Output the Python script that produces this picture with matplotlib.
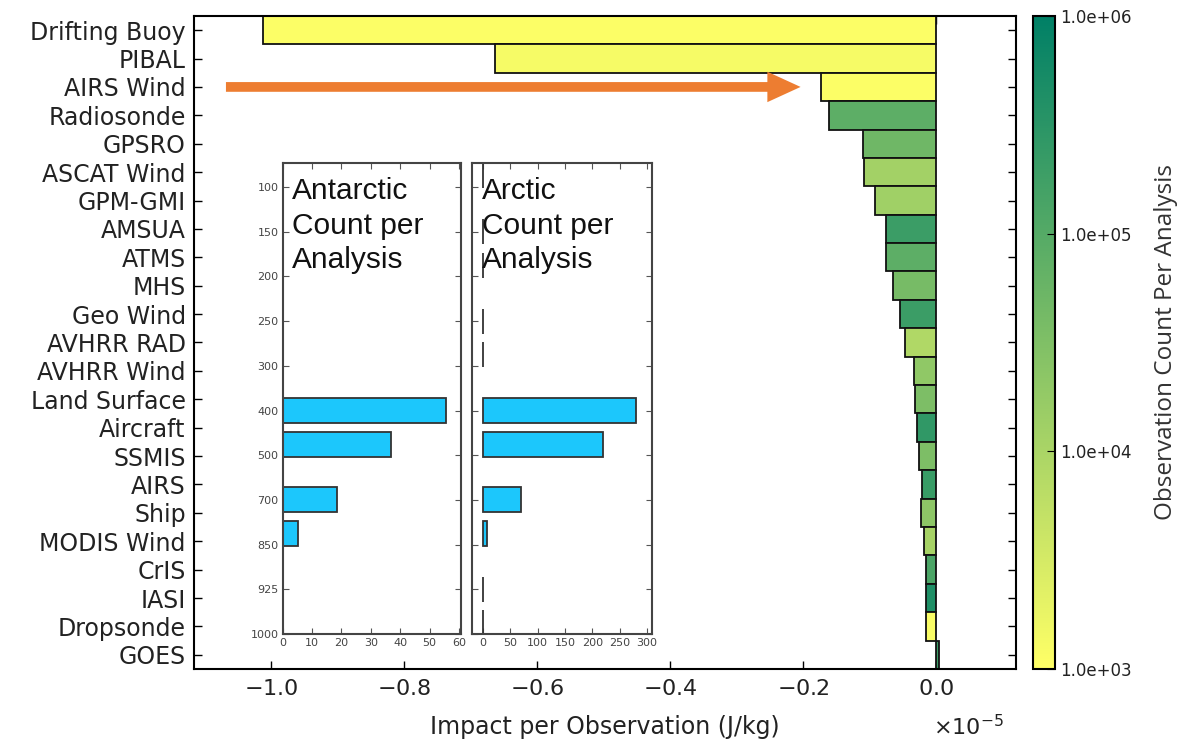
import numpy as np
import matplotlib
matplotlib.use("Agg")
import matplotlib.pyplot as plt
from matplotlib.colors import LogNorm
from matplotlib.ticker import ScalarFormatter, FormatStrFormatter

# impact per observation (x1e-5 J/kg) and obs count per analysis
obs_types = ["Drifting Buoy", "PIBAL", "AIRS Wind", "Radiosonde", "GPSRO",
             "ASCAT Wind", "GPM-GMI", "AMSUA", "ATMS", "MHS", "Geo Wind",
             "AVHRR RAD", "AVHRR Wind", "Land Surface", "Aircraft", "SSMIS",
             "AIRS", "Ship", "MODIS Wind", "CrIS", "IASI", "Dropsonde", "GOES"]
impact = [-1.012, -0.663, -0.174, -0.161, -0.110, -0.108, -0.092, -0.076,
          -0.075, -0.065, -0.055, -0.047, -0.0335, -0.0316, -0.029, -0.026,
          -0.0215, -0.0225, -0.018, -0.016, -0.0155, -0.0155, 0.0045]
counts = [1.1e3, 1.3e3, 1.1e3, 8e4, 5e4, 1.2e4, 1.3e4, 2e5, 8e4, 4e4, 2e5,
          8.5e3, 2e4, 3.4e4, 2.7e5, 3.4e4, 2.2e5, 2.2e4, 1.1e4, 1.3e5, 4.4e5,
          1.2e3, 2e5]

# polar MODIS wind counts by pressure level
lev_labels = ["100", "150", "200", "250", "300", "400", "500", "700", "850", "925", "1000"]
lev_pos = [-0.25, 1, 1.75, 3, 3.75, 5, 5.75, 7, 7.75, 9, 9.75]
antarctic = [0, 0, 0, 0, 0, 55.6, 36.8, 18.5, 5.1, 0, 0]
arctic = [0, 0, 0, 0, 0, 280, 219, 69, 6.8, 0, 0]

fig = plt.figure(figsize=(11.86, 7.42), dpi=100)
ax = fig.add_axes([0.1636, 0.0984, 0.6931, 0.8801])
cax = fig.add_axes([0.871, 0.0984, 0.01855, 0.8801])

norm = LogNorm(1e3, 1e6)
cmap = plt.get_cmap("summer_r")
y = np.arange(len(obs_types))
vals = np.array(impact) * 1e-5
ax.barh(y, vals, height=1.0, color=cmap(norm(counts)), edgecolor="#111111",
        linewidth=1.3, zorder=2)
ax.set_ylim(len(obs_types) - 0.5, -0.5)
ax.set_xlim(-1.116e-5, 0.12e-5)
ax.set_yticks(y)
ax.set_yticklabels(obs_types, fontsize=17, color="#222222")
ax.set_xticks(np.arange(-1.0, 0.01, 0.2) * 1e-5)
fmt = ScalarFormatter(useMathText=True)
fmt.set_powerlimits((-3, 3))
ax.xaxis.set_major_formatter(fmt)
ax.xaxis.get_offset_text().set_visible(False)
ax.tick_params(axis="both", direction="in", length=6, width=1, top=True,
               right=True, labelcolor="#222222", pad=7)
ax.tick_params(axis="x", labelsize=16)
ax.tick_params(axis="y", pad=6)
for s in ax.spines.values():
    s.set_linewidth(1.5)
ax.set_xlabel("Impact per Observation (J/kg)", fontsize=17, color="#222222",
              labelpad=12)
# exponent label, placed under the right end of the axis
fig.draw_without_rendering()
fig.text(0.846, 0.004, fmt.get_offset(), ha="right", va="bottom",
         fontsize=16, color="#222222")

# arrow pointing at AIRS Wind
iw = obs_types.index("AIRS Wind")
ax.annotate("", xy=(vals[iw] - 0.03e-5, iw), xytext=(-1.068e-5, iw),
            arrowprops=dict(arrowstyle="-|>,head_length=1.2,head_width=0.55",
                            color="#ed7d31", lw=7, shrinkA=0, shrinkB=0,
                            capstyle="butt", joinstyle="miter"),
            zorder=5)

sm = plt.cm.ScalarMappable(norm=norm, cmap=cmap)
cb = fig.colorbar(sm, cax=cax, ticks=[1e3, 1e4, 1e5, 1e6],
                  format=FormatStrFormatter("%.1e"))
cb.outline.set_linewidth(1.5)
cax.yaxis.set_minor_locator(plt.NullLocator())
cax.tick_params(labelsize=12, direction="in", length=6, labelcolor="#222222")
cb.set_label("Observation Count Per Analysis", fontsize=17.5, family="Open Sans",
             color="#333333", labelpad=16)

# inset panels
def level_panel(rect, counts_lev, xlim, xt, title, show_labels):
    ia = fig.add_axes(rect)
    ia.barh(lev_pos, counts_lev, height=0.56, color="#1cc7fc",
            edgecolor="#333333", linewidth=1.3, zorder=2)
    ia.set_ylim(10, -0.54)
    ia.set_xlim(*xlim)
    ia.set_yticks(range(len(lev_labels)))
    ia.set_yticklabels(lev_labels if show_labels else [])
    ia.set_xticks(xt)
    ia.tick_params(direction="in", length=4, top=True, right=True,
                   labelsize=8, labelcolor="#444444", pad=3, color="#555555")
    for s in ia.spines.values():
        s.set_linewidth(1.5)
        s.set_color("#444444")
    ia.text(0.055, 0.97, title, transform=ia.transAxes, va="top", ha="left",
            fontsize=21.5, family="Liberation Sans", linespacing=1.3,
            color="#111111")
    return ia

level_panel([0.2382, 0.1456, 0.1505, 0.6348], antarctic, (0, 60.7),
            range(0, 61, 10), "Antarctic\nCount per\nAnalysis", True)
level_panel([0.3977, 0.1456, 0.1518, 0.6348], arctic, (-21, 309),
            range(0, 301, 50), "Arctic\nCount per\nAnalysis", False)

fig.savefig("out.png", dpi=100, facecolor="white")
